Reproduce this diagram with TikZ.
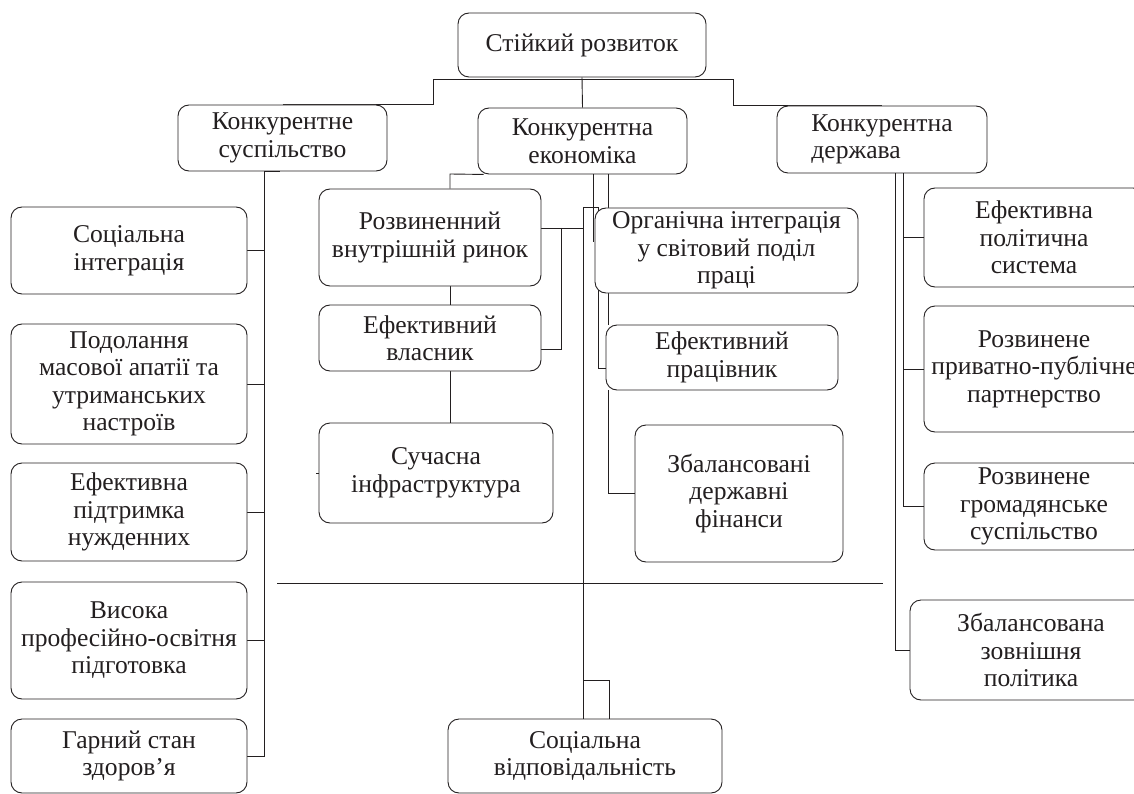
\documentclass[tikz,border=0pt]{standalone}
\usepackage{fontspec}
\setmainfont{Liberation Serif}
\usetikzlibrary{backgrounds,calc}
\definecolor{ink}{RGB}{35,31,32}
\tikzset{
  box/.style={draw=ink, line width=0.9pt, rounded corners=11pt, fill=white, align=center, inner sep=0pt, font=\fontsize{25.6}{27.5}\selectfont, text=ink},
  conn/.style={draw=ink, line width=0.9pt}
}
\newcommand{\mkbox}[7][]{%
  \pgfmathsetmacro{\mkbw}{#5-#3}%
  \pgfmathsetmacro{\mkbh}{#6-#4}%
  \pgfmathsetmacro{\mkcx}{(#3+#5)/2}%
  \pgfmathsetmacro{\mkcy}{(#4+#6)/2}%
  \node[box, minimum width=\mkbw pt, minimum height=\mkbh pt, #1] (#2) at (\mkcx,\mkcy) {#7};}
\begin{document}
\begin{tikzpicture}[x=1pt,y=-1pt]
\useasboundingbox (0,0) rectangle (1134,794);
\clip (0,0) rectangle (1134,794);
% top level
\mkbox{top}{458}{13}{706}{77}{Стійкий розвиток}
\mkbox{ks}{178}{105}{387}{171}{Конкурентне\\суспільство}
\mkbox{ke}{478}{108}{687}{174}{Конкурентна\\економіка}
\mkbox[align=left]{kd}{777}{106}{987}{173}{Конкурентна\\держава}
% left column
\mkbox{l1}{11}{207}{247}{294}{Соціальна\\інтеграція}
\mkbox{l2}{11}{324}{247}{444}{Подолання\\масової апатії та\\утриманських\\настроїв}
\mkbox{l3}{11}{463}{247}{561}{Ефективна\\підтримка\\нужденних}
\mkbox{l4}{11}{582}{247}{699}{Висока\\професійно-освітня\\підготовка}
\mkbox{l5}{11}{719}{247}{793}{Гарний стан\\здоров’я}
% centre column
\mkbox{c1}{319}{189}{541}{286}{Розвиненний\\внутрішній ринок}
\mkbox{c2}{319}{305}{541}{371}{Ефективний\\власник}
\mkbox{c3}{319}{423}{553}{523}{Сучасна\\інфраструктура}
\mkbox{o1}{595}{208}{858}{293}{Органічна інтеграція\\у світовий поділ\\праці}
\mkbox{o2}{606}{325}{838}{390}{Ефективний\\працівник}
\mkbox{o3}{635}{425}{843}{562}{Збалансовані\\державні\\фінанси}
\mkbox{sv}{448}{719}{722}{793}{Соціальна\\відповідальність}
% right column
\mkbox{r1}{924}{188}{1144}{287}{Ефективна\\політична\\система}
\mkbox{r2}{924}{306}{1144}{432}{Розвинене\\приватно-публічне\\партнерство}
\mkbox{r3}{924}{463}{1144}{550}{Розвинене\\громадянське\\суспільство}
\mkbox{r4}{910}{600}{1152}{700}{Збалансована\\зовнішня\\політика}
% helper coordinates
\coordinate (barL) at (433,79);
\coordinate (barR) at (733,79);
\coordinate (ksT) at (264,171);
\coordinate (cv) at (450,174);
\coordinate (bx) at (561,0);
\coordinate (tr) at (583,207);
\coordinate (v598) at (598,207);
\coordinate (v593) at (593,0);
\coordinate (v608) at (608,0);
\coordinate (hl1) at (277,583);
\coordinate (hl2) at (883,583);
\coordinate (sb) at (609,680);
\coordinate (dv1) at (895,0);
\coordinate (dv2) at (903,0);
\coordinate (c1e) at ([yshift=9.5pt]c1.east);
\coordinate (c2e) at ([yshift=-11pt]c2.east);
\coordinate (o2w) at ([yshift=-10.5pt]o2.west);
\begin{scope}[on background layer]
\draw[conn] (ks.north) -- (ks.north -| barL) -- (barL) -- (barR) -- (barR |- kd.north) -- (kd.north);
\draw[conn] (top.south) -- (ke.north);
\draw[conn] (ksT) -- (ksT |- l5.east) -- (l5.east);
\draw[conn] (ksT) -- ++(16,0);
\foreach \n in {l1,l2,l3,l4} \draw[conn] (\n.east) -- (\n.east -| ksT);
\draw[conn] ([xshift=6pt]ke.south west) -- (cv) -- (cv |- c1.north);
\draw[conn] (c1.south -| cv) -- (c2.north -| cv);
\draw[conn] (c2.south -| cv) -- (c3.north -| cv);
\draw[conn] (c1e) -- (c1e -| tr);
\draw[conn] (c1e -| bx) -- (c2e -| bx) -- (c2e);
\draw[conn] (tr) -- (tr |- sv.north);
\draw[conn] (tr) -- (v598) -- (v598 |- o2w) -- (o2w);
\draw[conn] (ke.south -| v593) -- ++(0,68);
\draw[conn] (ke.south -| v608) -- (o1.north -| v608);
\draw[conn] (o1.south -| v608) -- (o2.north -| v608);
\draw[conn] (o2.south -| v608) -- (o3.west -| v608) -- (o3.west);
\draw[conn] (hl1) -- (hl2);
\draw[conn] (sv.north -| sb) -- (sb) -- (sb -| tr);
\draw[conn] (c3.west) -- ++(-3,0);
\draw[conn] (kd.south -| dv2) -- (r3.west -| dv2) -- (r3.west);
\draw[conn] (r1.west) -- (r1.west -| dv2);
\draw[conn] (r2.west) -- (r2.west -| dv2);
\draw[conn] (kd.south -| dv1) -- (r4.west -| dv1) -- (r4.west);
\end{scope}
\end{tikzpicture}
\end{document}
